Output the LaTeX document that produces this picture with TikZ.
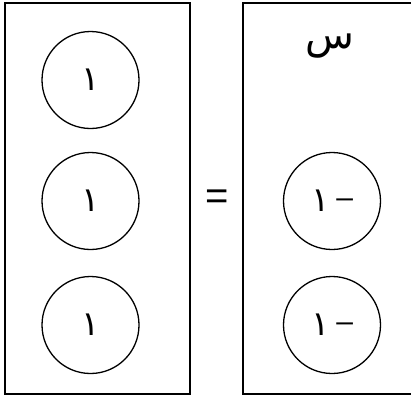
\documentclass[tikz,border=0pt]{standalone}
\usepackage{fontspec}
\setmainfont{Liberation Sans}
\newfontfamily\arabicfont[Script=Arabic]{DejaVu Sans}
\newfontfamily\dashfont{Liberation Sans}
\TeXXeTstate=1
\begin{document}
\begin{tikzpicture}[x=1pt,y=-1pt,
  panel/.style={draw, line width=2pt, rectangle, inner sep=0pt},
  counter/.style={draw, line width=1.3pt, circle, minimum size=97pt, inner sep=0pt, font=\arabicfont\fontsize{34}{40}\selectfont}]
\clip (0,0) rectangle (411,396);
\node[panel, minimum width=185pt, minimum height=391pt] (L) at (97.5,198.5) {};
\node[panel, minimum width=180pt, minimum height=391pt] (R) at (333,198.5) {};
\node[counter] (a) at (90.5,80) {\beginR ١\endR};
\node[counter] (b) at (90.5,201) {\beginR ١\endR};
\node[counter] (c) at (90.5,325) {\beginR ١\endR};
\node[counter] (d) at (332,201) {\beginR \raisebox{4pt}{\dashfont\fontsize{30}{36}\selectfont –}\hspace{7pt}١\endR};
\node[counter] (e) at (332,325) {\beginR \raisebox{4pt}{\dashfont\fontsize{30}{36}\selectfont –}\hspace{7pt}١\endR};
\node[font=\arabicfont\fontsize{40}{46}\selectfont] (x) at (330,46) {\beginR س\endR};
\node[font=\fontsize{40}{46}\selectfont] (eq) at (217,200) {=};
\end{tikzpicture}
\end{document}
